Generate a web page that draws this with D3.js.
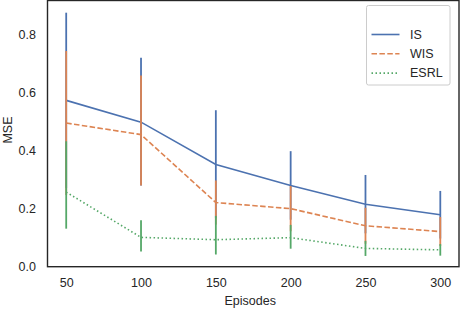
<!DOCTYPE html>
<html>
<head>
<meta charset="utf-8">
<script src="https://cdn.jsdelivr.net/npm/d3@7"></script>
<style>
body { margin: 0; background: #fff; }
text { font-family: Arial, "Liberation Sans", sans-serif; fill: #262626; }
</style>
</head>
<body>
<script>
var episodes = [50, 100, 150, 200, 250, 300];

var isMean = [0.573, 0.498, 0.352, 0.280, 0.215, 0.179];
var isLow  = [0.271, 0.280, 0.167, 0.162, 0.115, 0.097];
var isHigh = [0.875, 0.720, 0.539, 0.398, 0.316, 0.261];

var wisMean = [0.495, 0.455, 0.221, 0.200, 0.141, 0.121];
var wisLow  = [0.247, 0.280, 0.145, 0.122, 0.079, 0.071];
var wisHigh = [0.743, 0.659, 0.297, 0.278, 0.203, 0.171];

var esrlMean = [0.257, 0.101, 0.093, 0.100, 0.063, 0.058];
var esrlLow  = [0.131, 0.052, 0.042, 0.062, 0.037, 0.038];
var esrlHigh = [0.432, 0.160, 0.175, 0.144, 0.089, 0.078];

var yTicks = [0.0, 0.2, 0.4, 0.6, 0.8];

var series = [
	{name: 'IS', mean: isMean, lo: isLow, hi: isHigh, color: '#4c72b0', dash: null},
	{name: 'WIS', mean: wisMean, lo: wisLow, hi: wisHigh, color: '#dd8452', dash: '5.5,2.4'},
	{name: 'ESRL', mean: esrlMean, lo: esrlLow, hi: esrlHigh, color: '#55a868', dash: '1.5,2.5'}
];

var W = 460, H = 310;
var L = 47.5, R = 459, T = 0.5, B = 266.7;
var fs = 12.5;

var svg = d3.select('body').append('svg').attr('width', W).attr('height', H);

var x = d3.scaleLinear().domain([37.5, 312.5]).range([L, R]);
var y = d3.scaleLinear().domain([0, 0.917]).range([B, T]);

// tick labels
svg.append('g')
	.attr('transform', 'translate(0,' + B + ')')
	.call(d3.axisBottom(x).tickValues(episodes).tickSize(0).tickPadding(11))
	.call(g => g.select('.domain').remove())
	.selectAll('text').attr('font-size', fs).style('fill', '#262626');

svg.append('g')
	.attr('transform', 'translate(' + L + ',0)')
	.call(d3.axisLeft(y).tickValues(yTicks).tickFormat(d3.format('.1f')).tickSize(0).tickPadding(11.5))
	.call(g => g.select('.domain').remove())
	.selectAll('text').attr('font-size', fs).style('fill', '#262626');

// axis labels
svg.append('text')
	.attr('x', (L + R) / 2 - 3)
	.attr('y', 305)
	.attr('text-anchor', 'middle')
	.attr('font-size', fs)
	.text('Episodes');

svg.append('text')
	.attr('transform', 'translate(11.5,130) rotate(-90)')
	.attr('text-anchor', 'middle')
	.attr('font-size', fs)
	.text('MSE');

// lines and error bars
var line = d3.line().x((d, i) => x(episodes[i])).y(d => y(d));

series.forEach(s => {
	svg.append('path')
		.attr('d', line(s.mean))
		.attr('fill', 'none')
		.attr('stroke', s.color)
		.attr('stroke-width', 1.6)
		.attr('stroke-dasharray', s.dash);

	svg.append('g').selectAll('line')
		.data(episodes)
		.enter().append('line')
			.attr('x1', d => x(d))
			.attr('x2', d => x(d))
			.attr('y1', (d, i) => y(s.lo[i]))
			.attr('y2', (d, i) => y(s.hi[i]))
			.attr('stroke', s.color)
			.attr('stroke-width', 1.8);
});

// frame
svg.append('rect')
	.attr('x', L).attr('y', T)
	.attr('width', R - L).attr('height', B - T)
	.attr('fill', 'none')
	.attr('stroke', '#262626')
	.attr('stroke-width', 1.4);

// legend
var leg = svg.append('g');
leg.append('rect')
	.attr('x', 366.5).attr('y', 5.5)
	.attr('width', 83.5).attr('height', 79.5)
	.attr('rx', 2)
	.attr('fill', '#fff')
	.attr('stroke', '#cccccc')
	.attr('stroke-width', 1);

series.forEach((s, i) => {
	var ly = 34.5 + i * 19.3;
	leg.append('line')
		.attr('x1', 371.5).attr('x2', 399.5)
		.attr('y1', ly).attr('y2', ly)
		.attr('stroke', s.color)
		.attr('stroke-width', 1.6)
		.attr('stroke-dasharray', s.dash);
	leg.append('text')
		.attr('x', 410)
		.attr('y', ly)
		.attr('dy', '0.35em')
		.attr('font-size', fs)
		.text(s.name);
});
</script>
</body>
</html>
